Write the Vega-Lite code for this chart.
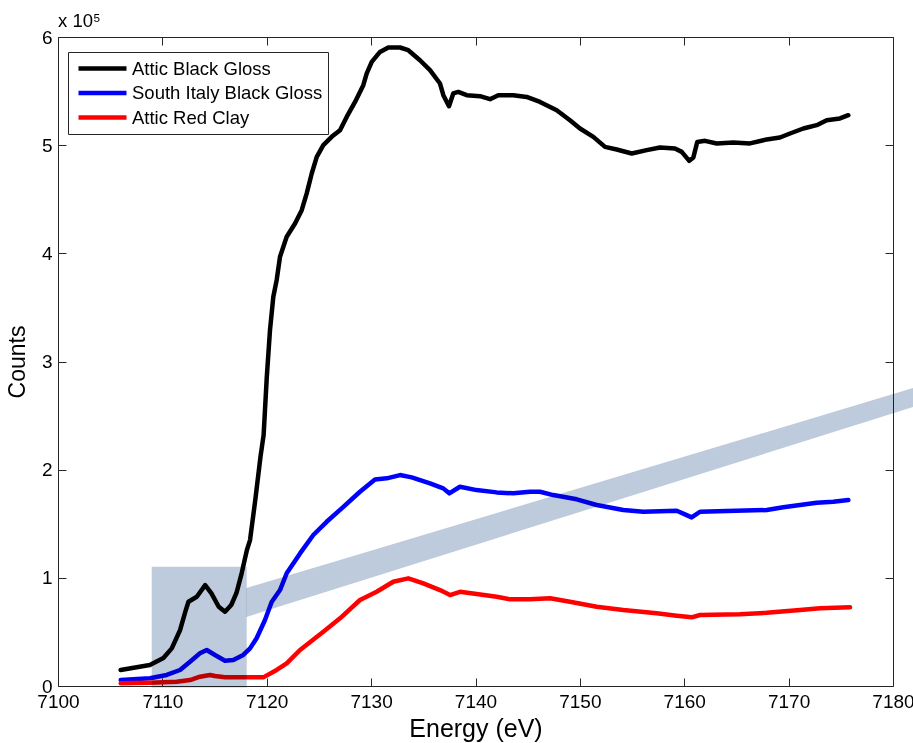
{
  "$schema": "https://vega.github.io/schema/vega-lite/v6.json",
  "width": 835,
  "height": 649,
  "autosize": {"type": "none"},
  "padding": {"left": 58, "top": 37, "right": 20, "bottom": 57},
  "background": "white",
  "config": {
    "font": "Liberation Sans",
    "view": {"stroke": "#262626", "strokeWidth": 1},
    "axis": {"labelFont": "Liberation Sans", "titleFont": "Liberation Sans", "labelColor": "black", "titleColor": "black", "tickColor": "#262626", "grid": false, "domain": false}
  },
  "title": {"text": "x 10⁵", "anchor": "start", "frame": "group", "fontSize": 18.5, "fontWeight": "normal", "font": "Liberation Sans", "color": "black", "baseline": "alphabetic", "offset": -17},
  "datasets": {
    "curves": [
      {"s":"Attic Black Gloss","E":7106.0,"C":14800},{"s":"Attic Black Gloss","E":7108.8,"C":19400},{"s":"Attic Black Gloss","E":7110.1,"C":25900},{"s":"Attic Black Gloss","E":7110.9,"C":34800},{"s":"Attic Black Gloss","E":7111.7,"C":51800},{"s":"Attic Black Gloss","E":7112.2,"C":68700},{"s":"Attic Black Gloss","E":7112.5,"C":77900},{"s":"Attic Black Gloss","E":7113.3,"C":82500},{"s":"Attic Black Gloss","E":7114.1,"C":93300},{"s":"Attic Black Gloss","E":7114.7,"C":85700},{"s":"Attic Black Gloss","E":7115.4,"C":73300},{"s":"Attic Black Gloss","E":7116.0,"C":68700},{"s":"Attic Black Gloss","E":7116.6,"C":74900},{"s":"Attic Black Gloss","E":7117.1,"C":86000},{"s":"Attic Black Gloss","E":7117.6,"C":104400},{"s":"Attic Black Gloss","E":7118.1,"C":125700},{"s":"Attic Black Gloss","E":7118.4,"C":134900},{"s":"Attic Black Gloss","E":7118.9,"C":171900},{"s":"Attic Black Gloss","E":7119.4,"C":211900},{"s":"Attic Black Gloss","E":7119.7,"C":232000},{"s":"Attic Black Gloss","E":7120.0,"C":285000},{"s":"Attic Black Gloss","E":7120.31,"C":329000},{"s":"Attic Black Gloss","E":7120.63,"C":359800},{"s":"Attic Black Gloss","E":7120.95,"C":375200},{"s":"Attic Black Gloss","E":7121.27,"C":396800},{"s":"Attic Black Gloss","E":7121.91,"C":415300},{"s":"Attic Black Gloss","E":7122.71,"C":427600},{"s":"Attic Black Gloss","E":7123.35,"C":439900},{"s":"Attic Black Gloss","E":7123.83,"C":455400},{"s":"Attic Black Gloss","E":7124.31,"C":473800},{"s":"Attic Black Gloss","E":7124.79,"C":489200},{"s":"Attic Black Gloss","E":7125.42,"C":500000},{"s":"Attic Black Gloss","E":7126.22,"C":507700},{"s":"Attic Black Gloss","E":7127.02,"C":513800},{"s":"Attic Black Gloss","E":7127.66,"C":526100},{"s":"Attic Black Gloss","E":7128.46,"C":540000},{"s":"Attic Black Gloss","E":7129.25,"C":555400},{"s":"Attic Black Gloss","E":7129.58,"C":566300},{"s":"Attic Black Gloss","E":7130.06,"C":577000},{"s":"Attic Black Gloss","E":7130.85,"C":586200},{"s":"Attic Black Gloss","E":7131.65,"C":590300},{"s":"Attic Black Gloss","E":7132.77,"C":590300},{"s":"Attic Black Gloss","E":7133.56,"C":587800},{"s":"Attic Black Gloss","E":7134.68,"C":578500},{"s":"Attic Black Gloss","E":7135.64,"C":569300},{"s":"Attic Black Gloss","E":7136.6,"C":557000},{"s":"Attic Black Gloss","E":7136.92,"C":546200},{"s":"Attic Black Gloss","E":7137.46,"C":536000},{"s":"Attic Black Gloss","E":7137.87,"C":547800},{"s":"Attic Black Gloss","E":7138.35,"C":549200},{"s":"Attic Black Gloss","E":7139.16,"C":546200},{"s":"Attic Black Gloss","E":7140.43,"C":545300},{"s":"Attic Black Gloss","E":7141.39,"C":542500},{"s":"Attic Black Gloss","E":7142.18,"C":546200},{"s":"Attic Black Gloss","E":7143.62,"C":546200},{"s":"Attic Black Gloss","E":7144.9,"C":544600},{"s":"Attic Black Gloss","E":7146.18,"C":540000},{"s":"Attic Black Gloss","E":7147.78,"C":532300},{"s":"Attic Black Gloss","E":7149.05,"C":523100},{"s":"Attic Black Gloss","E":7150.01,"C":515400},{"s":"Attic Black Gloss","E":7151.29,"C":507700},{"s":"Attic Black Gloss","E":7152.41,"C":498400},{"s":"Attic Black Gloss","E":7153.53,"C":496000},{"s":"Attic Black Gloss","E":7154.97,"C":492300},{"s":"Attic Black Gloss","E":7156.4,"C":495400},{"s":"Attic Black Gloss","E":7157.68,"C":497900},{"s":"Attic Black Gloss","E":7159.11,"C":496900},{"s":"Attic Black Gloss","E":7159.76,"C":493800},{"s":"Attic Black Gloss","E":7160.48,"C":485500},{"s":"Attic Black Gloss","E":7160.87,"C":488600},{"s":"Attic Black Gloss","E":7161.25,"C":503000},{"s":"Attic Black Gloss","E":7161.99,"C":504000},{"s":"Attic Black Gloss","E":7163.11,"C":501600},{"s":"Attic Black Gloss","E":7164.7,"C":502500},{"s":"Attic Black Gloss","E":7166.3,"C":501600},{"s":"Attic Black Gloss","E":7167.9,"C":505300},{"s":"Attic Black Gloss","E":7169.17,"C":507100},{"s":"Attic Black Gloss","E":7170.13,"C":510800},{"s":"Attic Black Gloss","E":7171.41,"C":515400},{"s":"Attic Black Gloss","E":7172.69,"C":518500},{"s":"Attic Black Gloss","E":7173.65,"C":523100},{"s":"Attic Black Gloss","E":7174.92,"C":524700},{"s":"Attic Black Gloss","E":7175.72,"C":527700},
      {"s":"South Italy Black Gloss","E":7106.01,"C":5500},{"s":"South Italy Black Gloss","E":7108.81,"C":7100},{"s":"South Italy Black Gloss","E":7110.41,"C":10200},{"s":"South Italy Black Gloss","E":7111.69,"C":14800},{"s":"South Italy Black Gloss","E":7112.65,"C":22500},{"s":"South Italy Black Gloss","E":7113.6,"C":30200},{"s":"South Italy Black Gloss","E":7114.25,"C":33300},{"s":"South Italy Black Gloss","E":7115.04,"C":28700},{"s":"South Italy Black Gloss","E":7116.0,"C":23400},{"s":"South Italy Black Gloss","E":7116.8,"C":24000},{"s":"South Italy Black Gloss","E":7117.75,"C":28700},{"s":"South Italy Black Gloss","E":7118.4,"C":34800},{"s":"South Italy Black Gloss","E":7119.04,"C":44400},{"s":"South Italy Black Gloss","E":7119.83,"C":61000},{"s":"South Italy Black Gloss","E":7120.47,"C":77600},{"s":"South Italy Black Gloss","E":7121.27,"C":88700},{"s":"South Italy Black Gloss","E":7121.91,"C":104200},{"s":"South Italy Black Gloss","E":7123.19,"C":122600},{"s":"South Italy Black Gloss","E":7124.46,"C":139600},{"s":"South Italy Black Gloss","E":7125.74,"C":151800},{"s":"South Italy Black Gloss","E":7127.18,"C":164200},{"s":"South Italy Black Gloss","E":7128.93,"C":179600},{"s":"South Italy Black Gloss","E":7130.37,"C":191000},{"s":"South Italy Black Gloss","E":7131.49,"C":192000},{"s":"South Italy Black Gloss","E":7132.77,"C":195000},{"s":"South Italy Black Gloss","E":7133.89,"C":192900},{"s":"South Italy Black Gloss","E":7135.64,"C":187300},{"s":"South Italy Black Gloss","E":7136.91,"C":182700},{"s":"South Italy Black Gloss","E":7137.49,"C":178100},{"s":"South Italy Black Gloss","E":7138.51,"C":184200},{"s":"South Italy Black Gloss","E":7140.11,"C":181100},{"s":"South Italy Black Gloss","E":7142.03,"C":179000},{"s":"South Italy Black Gloss","E":7143.62,"C":178100},{"s":"South Italy Black Gloss","E":7145.22,"C":179600},{"s":"South Italy Black Gloss","E":7146.18,"C":179600},{"s":"South Italy Black Gloss","E":7147.45,"C":176500},{"s":"South Italy Black Gloss","E":7149.7,"C":172600},{"s":"South Italy Black Gloss","E":7151.61,"C":167300},{"s":"South Italy Black Gloss","E":7154.16,"C":162700},{"s":"South Italy Black Gloss","E":7156.08,"C":161100},{"s":"South Italy Black Gloss","E":7159.28,"C":162000},{"s":"South Italy Black Gloss","E":7160.23,"C":158000},{"s":"South Italy Black Gloss","E":7160.71,"C":155900},{"s":"South Italy Black Gloss","E":7161.51,"C":161100},{"s":"South Italy Black Gloss","E":7164.06,"C":161700},{"s":"South Italy Black Gloss","E":7167.9,"C":162700},{"s":"South Italy Black Gloss","E":7169.49,"C":165200},{"s":"South Italy Black Gloss","E":7171.09,"C":167300},{"s":"South Italy Black Gloss","E":7172.69,"C":169400},{"s":"South Italy Black Gloss","E":7174.28,"C":170300},{"s":"South Italy Black Gloss","E":7175.72,"C":171900},
      {"s":"Attic Red Clay","E":7106.01,"C":2500},{"s":"Attic Red Clay","E":7108.81,"C":3000},{"s":"Attic Red Clay","E":7111.37,"C":4000},{"s":"Attic Red Clay","E":7112.65,"C":5500},{"s":"Attic Red Clay","E":7113.6,"C":8600},{"s":"Attic Red Clay","E":7114.56,"C":10200},{"s":"Attic Red Clay","E":7115.04,"C":9200},{"s":"Attic Red Clay","E":7116.0,"C":8000},{"s":"Attic Red Clay","E":7118.08,"C":8000},{"s":"Attic Red Clay","E":7119.67,"C":8000},{"s":"Attic Red Clay","E":7120.95,"C":14800},{"s":"Attic Red Clay","E":7121.91,"C":21000},{"s":"Attic Red Clay","E":7123.19,"C":33300},{"s":"Attic Red Clay","E":7125.42,"C":50200},{"s":"Attic Red Clay","E":7127.02,"C":62600},{"s":"Attic Red Clay","E":7128.93,"C":79500},{"s":"Attic Red Clay","E":7130.53,"C":87100},{"s":"Attic Red Clay","E":7132.12,"C":96400},{"s":"Attic Red Clay","E":7133.56,"C":99500},{"s":"Attic Red Clay","E":7135.0,"C":94900},{"s":"Attic Red Clay","E":7136.6,"C":88700},{"s":"Attic Red Clay","E":7137.56,"C":84100},{"s":"Attic Red Clay","E":7138.51,"C":87100},{"s":"Attic Red Clay","E":7140.11,"C":85000},{"s":"Attic Red Clay","E":7142.03,"C":82500},{"s":"Attic Red Clay","E":7143.31,"C":80100},{"s":"Attic Red Clay","E":7145.22,"C":80100},{"s":"Attic Red Clay","E":7147.14,"C":81100},{"s":"Attic Red Clay","E":7149.05,"C":77900},{"s":"Attic Red Clay","E":7151.61,"C":73300},{"s":"Attic Red Clay","E":7154.16,"C":70200},{"s":"Attic Red Clay","E":7157.36,"C":67200},{"s":"Attic Red Clay","E":7159.28,"C":65000},{"s":"Attic Red Clay","E":7160.71,"C":63500},{"s":"Attic Red Clay","E":7161.51,"C":65600},{"s":"Attic Red Clay","E":7165.34,"C":66300},{"s":"Attic Red Clay","E":7167.9,"C":67700},{"s":"Attic Red Clay","E":7171.09,"C":70200},{"s":"Attic Red Clay","E":7173.01,"C":71800},{"s":"Attic Red Clay","E":7175.88,"C":72700}
    ],
    "box": [{"E1": 7108.98, "E2": 7118.08, "C1": -1500, "C2": 110300}],
    "band": [{"E": 7118.05, "lo": 63800, "hi": 90600}, {"E": 7181.92, "lo": 257900, "hi": 275400}]
  },
  "layer": [
    {
      "data": {"name": "curves"},
      "mark": {"type": "line", "strokeWidth": 4.5, "strokeJoin": "round", "strokeCap": "round"},
      "encoding": {
        "x": {"field": "E", "type": "quantitative", "scale": {"domain": [7100, 7180], "nice": false, "zero": false},
          "axis": {"orient": "bottom", "values": [7100, 7110, 7120, 7130, 7140, 7150, 7160, 7170, 7180], "format": "d", "labelFontSize": 19, "tickSize": -8, "labelPadding": 14, "labelFlush": false, "labelOverlap": false, "title": "Energy (eV)", "titleFontSize": 25, "titleFontWeight": "normal", "titlePadding": 5}},
        "y": {"field": "C", "type": "quantitative", "scale": {"domain": [0, 600000], "nice": false},
          "axis": {"orient": "left", "values": [0, 100000, 200000, 300000, 400000, 500000, 600000], "labelExpr": "datum.value / 100000", "labelFontSize": 19, "tickSize": -8, "labelPadding": 14, "labelFlush": false, "labelOverlap": false, "title": "Counts", "titleFontSize": 23, "titleFontWeight": "normal", "titlePadding": 12}},
        "color": {"field": "s", "type": "nominal",
          "scale": {"domain": ["Attic Black Gloss", "South Italy Black Gloss", "Attic Red Clay"], "range": ["#000000", "#0000ff", "#ff0000"]},
          "legend": {"title": null, "orient": "none", "legendX": 10, "legendY": 15, "strokeColor": "#262626", "fillColor": "white", "padding": 5, "cornerRadius": 0, "symbolType": "stroke", "symbolSize": 2304, "symbolStrokeWidth": 4.5, "clipHeight": 23, "rowPadding": 1.5, "labelFontSize": 18.5, "labelFont": "Liberation Sans", "labelColor": "black", "labelOffset": 3, "symbolOffset": 3, "labelLimit": 400}}
      }
    },
    {
      "data": {"name": "box"},
      "mark": {"type": "rect", "color": "#bdcbdc", "blend": "multiply"},
      "encoding": {
        "x": {"field": "E1", "type": "quantitative", "scale": {"domain": [7100, 7180], "nice": false, "zero": false},
          "axis": {"orient": "top", "values": [7100, 7110, 7120, 7130, 7140, 7150, 7160, 7170, 7180], "labels": false, "tickSize": -8, "title": null}},
        "x2": {"field": "E2"},
        "y": {"field": "C1", "type": "quantitative", "scale": {"domain": [0, 600000], "nice": false},
          "axis": {"orient": "right", "values": [0, 100000, 200000, 300000, 400000, 500000, 600000], "labels": false, "tickSize": -8, "title": null}},
        "y2": {"field": "C2"}
      }
    },
    {
      "data": {"name": "band"},
      "mark": {"type": "area", "color": "#bdcbdc", "blend": "multiply"},
      "encoding": {
        "x": {"field": "E", "type": "quantitative", "scale": {"domain": [7100, 7180], "nice": false, "zero": false}, "axis": null},
        "y": {"field": "hi", "type": "quantitative", "scale": {"domain": [0, 600000], "nice": false}, "axis": null},
        "y2": {"field": "lo"}
      }
    }
  ],
  "resolve": {"axis": {"x": "independent", "y": "independent"}}
}
